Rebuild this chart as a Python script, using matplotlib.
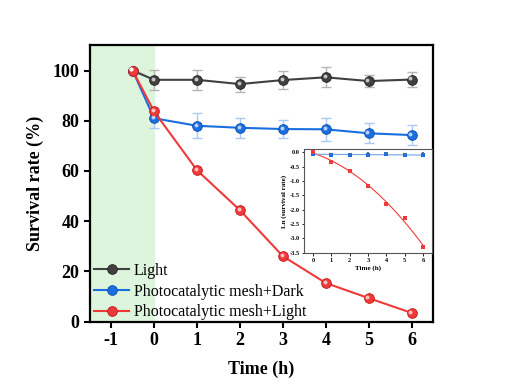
import numpy as np
import matplotlib
matplotlib.use("Agg")
import matplotlib.pyplot as plt
from matplotlib.transforms import offset_copy

plt.rcParams["font.family"] = ["Liberation Serif", "DejaVu Serif"]
plt.rcParams["axes.unicode_minus"] = False

# données principales
temps = [-0.5, 0, 1, 2, 3, 4, 5, 6]
light = [100, 96.3, 96.3, 94.6, 96.2, 97.3, 95.8, 96.4]
light_err = [0, 4, 4, 3, 3.5, 4, 2.5, 3]
mesh_dark = [100, 81.0, 78.0, 77.2, 76.7, 76.6, 75.0, 74.3]
mesh_dark_err = [0, 4, 5, 4, 3.5, 4.5, 4, 4]
mesh_light = [100, 83.7, 60.3, 44.4, 26.1, 15.4, 9.4, 3.5]

# données de l'encart (ln du taux de survie)
temps_ln = [0, 1, 2, 3, 4, 5, 6]
ln_light = [-0.03, -0.04, -0.05, -0.03, -0.02, -0.04, -0.03]
ln_dark = [-0.05, -0.08, -0.08, -0.08, -0.07, -0.09, -0.09]
ln_mesh_light = [0.0, -0.33, -0.64, -1.16, -1.79, -2.30, -3.30]

gris = "#404040"
bleu = "#1a6ee0"
rouge = "#f03a3a"

fig = plt.figure(figsize=(5.05, 3.87), dpi=100)
ax = fig.add_axes([0.1776, 0.1687, 0.680, 0.714])

ax.axvspan(-1.5, 0, color="#ddf5dc", zorder=0)


def sphere(ax, x, y, ms):
    # petit reflet blanc pour imiter les billes
    tr = offset_copy(ax.transData, fig=ax.figure, x=-0.9, y=0.9, units="points")
    ax.plot(x, y, "o", ms=ms * 0.4, color="white", alpha=0.7, transform=tr,
            zorder=6, markeredgewidth=0)


ax.errorbar(temps, light, yerr=light_err, fmt="none", ecolor="#b5b5b5",
            elinewidth=1, capsize=3.5, capthick=1, zorder=2)
ax.errorbar(temps, mesh_dark, yerr=mesh_dark_err, fmt="none", ecolor="#a9c9f2",
            elinewidth=1, capsize=3.5, capthick=1, zorder=2)

ax.plot(temps, light, "-o", color=gris, lw=1.5, ms=7, mec="#222222", mew=0.6,
        label="Light", zorder=3)
ax.plot(temps, mesh_dark, "-o", color=bleu, lw=1.5, ms=7, mec="#0d4fb0", mew=0.6,
        label="Photocatalytic mesh+Dark", zorder=4)
ax.plot(temps, mesh_light, "-o", color=rouge, lw=1.5, ms=7, mec="#c01818", mew=0.6,
        label="Photocatalytic mesh+Light", zorder=5)
sphere(ax, temps, light, 7)
sphere(ax, temps, mesh_dark, 7)
sphere(ax, temps, mesh_light, 7)

ax.set_xlim(-1.5, 6.5)
ax.set_ylim(0, 110)
ax.set_xticks([-1, 0, 1, 2, 3, 4, 5, 6])
ax.set_yticks([0, 20, 40, 60, 80, 100])
ax.set_xlabel("Time (h)", fontsize=13, fontweight="bold", labelpad=8)
ax.set_ylabel("Survival rate (%)", fontsize=13, fontweight="bold", labelpad=6)
for lab in ax.get_xticklabels() + ax.get_yticklabels():
    lab.set_fontweight("bold")
ax.tick_params(labelsize=13, width=1.5, length=4, direction="out")
for s in ax.spines.values():
    s.set_linewidth(1.6)

ax.legend(loc="lower left", bbox_to_anchor=(-0.015, -0.03), frameon=False,
          fontsize=11.5, handlelength=2.2, handletextpad=0.3, labelspacing=0.3,
          borderaxespad=0.2)

# encart
ins = fig.add_axes([0.602, 0.346, 0.2535, 0.269])
coef = np.polyfit(temps_ln, ln_mesh_light, 2)
xf = np.linspace(0, 6.05, 100)
ins.plot(xf, np.polyval(coef, xf), color=rouge, lw=0.8)
coef_b = np.polyfit(temps_ln, ln_dark, 1)
ins.plot([0, 6], np.polyval(coef_b, [0, 6]), color="#6fa3ea", lw=0.8)
ins.plot(temps_ln, ln_dark, "s", color=bleu, ms=2.2, mew=0)
ins.plot(temps_ln, ln_light, "s", color="#5a6c8a", ms=1.8, mew=0)
ins.plot(temps_ln, ln_mesh_light, "s", color=rouge, ms=2.2, mew=0)
ins.set_xlim(-0.5, 6.5)
ins.set_ylim(-3.52, 0.12)
ins.set_xticks(temps_ln)
ins.set_yticks([0.0, -0.5, -1.0, -1.5, -2.0, -2.5, -3.0, -3.5])
ins.set_yticklabels(["0.0", "-0.5", "-1.0", "-1.5", "-2.0", "-2.5", "-3.0", "-3.5"])
ins.tick_params(labelsize=4.5, width=0.6, length=1.8, pad=1.5)
for lab in ins.get_xticklabels() + ins.get_yticklabels():
    lab.set_fontweight("bold")
ins.set_xlabel("Time (h)", fontsize=5, fontweight="bold", labelpad=2)
ins.set_ylabel("Ln (survival rate)", fontsize=5, fontweight="bold", labelpad=2)
for s in ins.spines.values():
    s.set_linewidth(0.8)
    s.set_color("#555555")

fig.savefig("out.png", dpi=100)
